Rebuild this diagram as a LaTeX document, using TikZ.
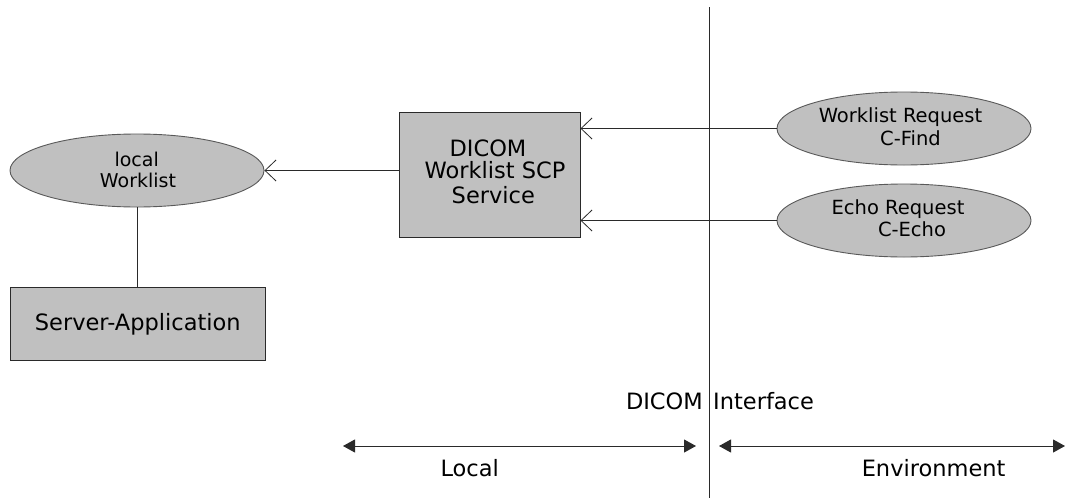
\documentclass[tikz,border=0pt]{standalone}
\usepackage{fontspec}
\setmainfont{DejaVu Sans}
\usetikzlibrary{arrows.meta,shapes.geometric}
\definecolor{boxgray}{HTML}{C0C0C0}
\definecolor{edge}{HTML}{2A2A2A}
\begin{document}
\begin{tikzpicture}[x=1pt,y=-1pt,
  box/.style={draw=edge, fill=boxgray, line width=0.9pt, inner sep=0pt},
  oval/.style={ellipse, draw=black!65, fill=boxgray, line width=0.9pt, inner sep=0pt,
    minimum width=254pt, minimum height=73pt},
  big/.style={font=\fontsize{22.5}{27}\selectfont, inner sep=0pt, anchor=base},
  mid/.style={font=\fontsize{19.5}{23}\selectfont, inner sep=0pt, anchor=base},
  link/.style={draw=edge, line width=0.8pt, -{Straight Barb[length=11pt,width=21pt]}},
  span/.style={draw=edge, line width=1pt,
    {Triangle[length=12pt,width=13pt]}-{Triangle[length=12pt,width=13pt]}},
]
\useasboundingbox (0,0) rectangle (1065,498);

% interface boundary
\coordinate (itop) at (709,7);
\coordinate (ibot) at (709,498);
\draw[draw=edge, line width=1pt] (itop) -- (ibot);

% boxes
\node[box, minimum width=181pt, minimum height=125pt] (svc) at (489.5,174.5) {};
\node[box, minimum width=254.5pt, minimum height=73.5pt] (srv) at (137.75,323.75) {};

% ellipses
\node[oval] (lw) at (137,170.5) {};
\node[oval] (wlreq) at (904,128.5) {};
\node[oval] (echo) at (904,220.5) {};

% texts
\node[big] (t1) at (488,156.7) {DICOM};
\node[big] (t2) at (495,178.3) {Worklist SCP};
\node[big] (t3) at (493.3,203.3) {Service};
\node[big] (t4) at (137.8,330) {Server-Application};
\node[mid, font=\fontsize{19}{23}\selectfont] (t5) at (136.7,166) {local};
\node[mid, font=\fontsize{19}{23}\selectfont] (t6) at (138,187.3) {Worklist};
\node[mid] (t7) at (900.5,122.7) {Worklist Request};
\node[mid] (t8) at (910.5,145) {C-Find};
\node[mid] (t9) at (898,214) {Echo Request};
\node[mid] (t10) at (912,236.7) {C-Echo};
\node[big, anchor=base east] (t11) at (703,409.3) {DICOM};
\node[big, anchor=base west] (t11b) at (713,409.3) {Interface};
\node[big] (t12) at (469.7,476.7) {Local};
\node[big] (t13) at (933.6,476.7) {Environment};

% connectors
\draw[link] (wlreq.west) -- (wlreq.west -| svc.east);
\draw[link] (echo.west) -- (echo.west -| svc.east);
\draw[link] (lw.east -| svc.west) -- (lw.east);
\draw[draw=edge, line width=0.8pt] (lw.south) -- (lw.south |- srv.north);

% extent arrows
\coordinate (la) at (343,446);
\coordinate (lb) at (696,446);
\coordinate (ra) at (719,446);
\coordinate (rb) at (1065,446);
\draw[span] (la) -- (lb);
\draw[span] (ra) -- (rb);
\end{tikzpicture}
\end{document}
